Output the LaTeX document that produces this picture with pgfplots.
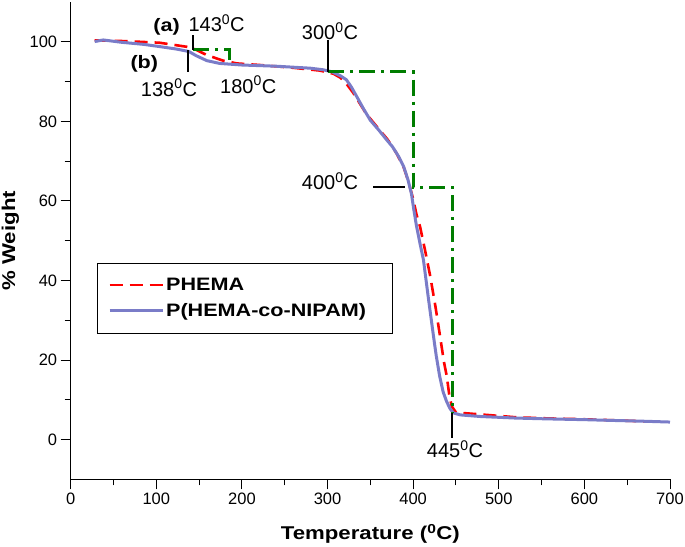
\documentclass[border=0pt]{standalone}
\usepackage{fontspec}
\setmainfont{Liberation Sans}
\newfontfamily\lblfont{Liberation Sans}[FakeStretch=1.2]
\usepackage{pgfplots}
\pgfplotsset{compat=1.18}
\definecolor{cblue}{RGB}{122,124,200}
\definecolor{cred}{RGB}{255,0,0}
\definecolor{cgreen}{RGB}{0,125,0}
\newcommand{\annfont}{\fontsize{20}{22}\selectfont}
\newcommand{\bfann}{\lblfont\bfseries\fontsize{18}{20}\selectfont}
\begin{document}
\begin{tikzpicture}
\begin{axis}[
  scale only axis, width=599.3pt, height=477.1pt,
  xmin=0, xmax=700, ymin=-10, ymax=110,
  axis lines*=left,
  axis line style={line width=1pt},
  tick align=outside,
  major tick length=10pt, minor tick length=6pt,
  every tick/.style={black, line width=1pt},
  xtick={0,100,...,700}, ytick={0,20,...,100},
  minor x tick num=1, minor y tick num=1,
  tick label style={font=\fontsize{16.5}{18}\selectfont},
  /pgf/number format/assume math mode=true,
  xlabel={Temperature (\textsuperscript{0}C)},
  ylabel={\% Weight},
  label style={font=\lblfont\bfseries\fontsize{18.5}{20}\selectfont},
  xlabel style={at={(axis description cs:0.5,-0.1272)}, anchor=base},
  ylabel style={at={(axis description cs:-0.0929,0.5)}, anchor=base, rotate=0},
  legend style={at={(axis description cs:0.0434,0.454)}, anchor=north west,
    draw=black, line width=0.8pt, inner xsep=11pt, inner ysep=13pt,
    font=\lblfont\bfseries\fontsize{18}{20}\selectfont,
    row sep=7.5pt},
  legend cell align=left,
  legend image code/.code={\draw[#1] (0pt,0pt) -- (53pt,0pt);},
]
\coordinate (LL) at (rel axis cs:0,0);
\coordinate (UR) at (rel axis cs:1,1);

% PHEMA
\addplot[cred, line width=2.6pt, dash pattern=on 13pt off 7pt] coordinates {
(28,100.4) (65,100.2) (104,99.8) (135,98.8) (143,98.4) (159,96.7) (178,95.3)
(194,94.6) (221,94.2) (260,93.5) (291,92.8) (307,92.0) (315,91.0) (322,89.5)
(330,87.2) (334,85.8) (345,82.0) (357.5,78.7) (370,75.5) (380,72.2) (388.6,68.7)
(395,64.5) (400,60.5) (404,56.5) (408,53.6) (414,47.5) (420,41) (426,33.5)
(431.4,26) (436,19.5) (439.3,15.9) (442,11.5) (445,8.4) (450,6.8) (480,6.3)
(520,5.6) (560,5.3) (600,5.1) (640,4.8) (680,4.5)
};
\addlegendentry{PHEMA}
% P(HEMA-co-NIPAM)
\addplot[cblue, line width=3pt] coordinates {
(28,100.1) (38,100.5) (60,99.9) (85,99.4) (105,98.8) (124,98.2) (138,97.6)
(147,96.5) (159,95.3) (174,94.6) (200,94.2) (240,93.9) (280,93.4) (295,93.0)
(305,92.5) (315,91.5) (322,90.5) (328,88.6) (334,86.3) (342,83.2) (350,80.3)
(360,77.8) (369,75.4) (376,73.6) (383,71.2) (389,68.6) (394,65.3) (398,61.8)
(401,57.5) (404,53.6) (408,49.3) (412,45.2) (415,40.2) (418,35.2) (421,30.4)
(424,25.6) (427,21.0) (431,15.9) (435,12.0) (439,9.6) (443,7.8) (447,6.7)
(455,6.2) (478,5.8) (520,5.4) (556,5.2) (600,5.0) (634,4.8) (670,4.6) (700,4.4)
};
\addlegendentry{P(HEMA-co-NIPAM)\rule{13pt}{0pt}}

% green step lines
\addplot[cgreen, line width=3pt, dash pattern=on 16pt off 6pt on 3pt off 6pt, forget plot]
  coordinates {(143.2,98) (186,98) (186,94.6)};
\addplot[cgreen, line width=3pt, dash pattern=on 16pt off 6pt on 3pt off 6pt, forget plot]
  coordinates {(300.6,92.5) (400.2,92.5) (400.2,63.4) (445.8,63.4) (445.8,6.7)};

% black markers
\addplot[black, line width=2pt, forget plot] coordinates {(142.8,98) (142.8,101.8)};
\addplot[black, line width=2pt, forget plot] coordinates {(137.4,92.5) (137.4,98)};
\addplot[black, line width=2pt, forget plot] coordinates {(300.6,92.5) (300.6,100.5)};
\addplot[black, line width=2pt, forget plot] coordinates {(353.5,63.4) (390.5,63.4)};
\addplot[black, line width=2pt, forget plot] coordinates {(445.8,6.7) (445.8,0.4)};

% annotation labels
\node[anchor=base east, inner sep=0pt, font=\bfann] at (axis cs:127.7,102.6) {(a)};
\node[anchor=base west, inner sep=0pt, font=\annfont] at (axis cs:137.4,102.6) {143\textsuperscript{0}C};
\node[anchor=base east, inner sep=0pt, font=\bfann] at (axis cs:102.3,93.4) {(b)};
\node[anchor=base west, inner sep=0pt, font=\annfont] at (axis cs:81.8,86.3) {138\textsuperscript{0}C};
\node[anchor=base west, inner sep=0pt, font=\annfont] at (axis cs:174.4,87.1) {180\textsuperscript{0}C};
\node[anchor=base west, inner sep=0pt, font=\annfont] at (axis cs:269.9,100.5) {300\textsuperscript{0}C};
\node[anchor=base west, inner sep=0pt, font=\annfont] at (axis cs:269.9,62.8) {400\textsuperscript{0}C};
\node[anchor=base west, inner sep=0pt, font=\annfont] at (axis cs:415.9,-4.6) {445\textsuperscript{0}C};
\end{axis}
\pgfresetboundingbox
\path[use as bounding box] ([xshift=-70.7pt,yshift=-66.7pt]LL) rectangle ([xshift=15pt,yshift=2.2pt]UR);
\end{tikzpicture}
\end{document}
